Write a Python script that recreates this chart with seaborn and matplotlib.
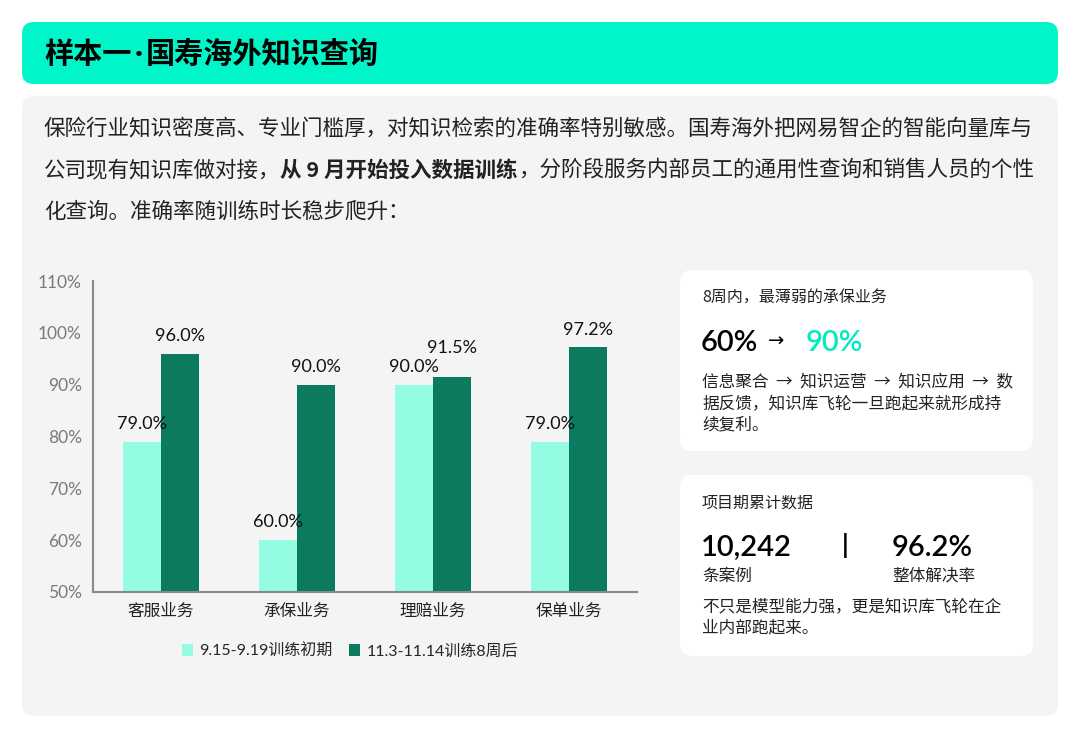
import matplotlib
matplotlib.use('Agg')
import matplotlib.pyplot as plt
import seaborn as sns
import pandas as pd
from matplotlib.patches import FancyBboxPatch

# chart data
categories = ['客服业务', '承保业务', '理赔业务', '保单业务']
periods = ['9.15-9.19训练初期', '11.3-11.14训练8周后']
early_acc = [79.0, 60.0, 90.0, 79.0]
after_acc = [96.0, 90.0, 91.5, 97.2]
y_ticks = [50, 60, 70, 80, 90, 100, 110]

# text content
title_parts = ['样本一', '·', '国寿海外知识查询']
para_line1 = '保险行业知识密度高、专业门槛厚，对知识检索的准确率特别敏感。国寿海外把网易智企的智能向量库与'
para_line2 = ['公司现有知识库做对接，', '从 9 月开始投入数据训练', '，分阶段服务内部员工的通用性查询和销售人员的个性']
para_line3 = '化查询。准确率随训练时长稳步爬升：'
card1_head = '8周内，最薄弱的承保业务'
card1_from, card1_to = '60%', '90%'
card1_body = ['信息聚合  →  知识运营  →  知识应用  →  数', '据反馈，知识库飞轮一旦跑起来就形成持', '续复利。']
card2_head = '项目期累计数据'
card2_cases, card2_rate = '10,242', '96.2%'
card2_body = ['不只是模型能力强，更是知识库飞轮在企', '业内部跑起来。']

LIGHT = '#94FCE2'
DARK = '#0B7A5E'
AQUA = '#00F5C8'
CJK = ['Noto Sans CJK SC', 'DejaVu Sans']
NUM = ['Lato', 'Noto Sans CJK SC', 'DejaVu Sans']

sns.set_style('white')
plt.rcParams['font.family'] = CJK

W, H = 1080, 738
fig = plt.figure(figsize=(W / 100, H / 100), dpi=100)
fig.patch.set_facecolor('white')

# background axes in pixel coordinates
bg = fig.add_axes([0, 0, 1, 1])
bg.set_xlim(0, W)
bg.set_ylim(H, 0)
bg.axis('off')
bg.set_zorder(0)


def rbox(x0, y0, x1, y1, color, r=12):
    bg.add_patch(FancyBboxPatch((x0, y0), x1 - x0, y1 - y0,
                                boxstyle=f'round,pad=0,rounding_size={r}',
                                facecolor=color, edgecolor='none'))


rbox(22, 22, 1058, 84, AQUA, r=12)
rbox(22, 96, 1058, 716, '#F5F4F5', r=12)
rbox(680, 270, 1033, 451, 'white', r=12)
rbox(680, 475, 1033, 656, 'white', r=12)

fig.canvas.draw()
renderer = fig.canvas.get_renderer()


def run_text(x, y, parts, fams, weights, gap=0, **kw):
    for part, fam, wt in zip(parts, fams, weights):
        t = bg.text(x, y, part, family=fam, fontweight=wt, **kw)
        x += t.get_window_extent(renderer).width + gap


run_text(44, 54, title_parts, [CJK, NUM, CJK], ['bold'] * 3, gap=3,
         fontsize=21, color='black', va='center')

txt_kw = dict(fontsize=15.5, color='#222222', va='center')
bg.text(44, 128, para_line1, **txt_kw)
run_text(44, 170, para_line2, [CJK] * 3, ['normal', 'bold', 'normal'], **txt_kw)
bg.text(44, 212, para_line3, **txt_kw)

# card 1
bg.text(702, 298, card1_head, fontsize=11.5, color='#222222', va='center')
bg.text(701, 343, card1_from, fontsize=21, color='black', va='center', family=NUM, fontweight='semibold')
bg.text(768, 341, '→', fontsize=14, color='black', va='center', family=['DejaVu Sans'])
bg.text(806, 343, card1_to, fontsize=21, color='#00EBBE', va='center', family=NUM, fontweight='semibold')
for i, line in enumerate(card1_body):
    bg.text(702, 383 + i * 21, line, fontsize=12, color='#222222', va='center')

# card 2
bg.text(702, 503, card2_head, fontsize=11.5, color='#222222', va='center')
bg.text(701, 548, card2_cases, fontsize=21, color='black', va='center', family=NUM, fontweight='semibold')
bg.text(845, 546, '|', fontsize=19, fontweight='bold', color='black', va='center', ha='center', family=NUM)
bg.text(892, 548, card2_rate, fontsize=21, color='black', va='center', family=NUM, fontweight='semibold')
bg.text(702, 576, '条案例', fontsize=12, color='#222222', va='center')
bg.text(892, 576, '整体解决率', fontsize=12, color='#222222', va='center')
for i, line in enumerate(card2_body):
    bg.text(702, 607 + i * 21, line, fontsize=12, color='#222222', va='center')

# bar chart
df = pd.DataFrame({
    'category': categories * 2,
    'period': [periods[0]] * len(categories) + [periods[1]] * len(categories),
    'accuracy': early_acc + after_acc,
})

ax = fig.add_axes([93 / W, 1 - 592 / H, (637 - 93) / W, (592 - 281) / H])
ax.set_zorder(1)
ax.patch.set_alpha(0)
sns.barplot(data=df, x='category', y='accuracy', hue='period', order=categories,
            hue_order=periods, palette=[LIGHT, DARK], width=0.56, errorbar=None,
            saturation=1, linewidth=0, ax=ax)
ax.set_ylim(50, 110)
ax.set_xlim(-0.5, len(categories) - 0.5)
ax.set_yticks(y_ticks)
ax.set_yticklabels([f'{v}%' for v in y_ticks], family=NUM, fontsize=12.5, color='#7A7A7A')
ax.set_xlabel('')
ax.set_ylabel('')
ax.tick_params(axis='x', which='major', length=0, labelsize=12, labelcolor='#222222', pad=8)
ax.set_xticks([i - 0.5 for i in range(len(categories) + 1)], minor=True)
ax.tick_params(axis='x', which='minor', length=6, width=1.5, color='#8A8A8A', direction='out')
ax.tick_params(axis='y', length=5, width=1.5, color='#8A8A8A', direction='out', pad=3)
for side in ['top', 'right']:
    ax.spines[side].set_visible(False)
for side in ['left', 'bottom']:
    ax.spines[side].set_color('#8A8A8A')
    ax.spines[side].set_linewidth(1.5)

for k, cont in enumerate(ax.containers):
    texts = ax.bar_label(cont, fmt='%.1f%%', padding=7, fontsize=13, color='#111111',
                         family=NUM)
    if k == 1:
        # nudge the 理赔 label up so it clears its neighbour
        texts[2].set_y(texts[2].get_position()[1] + 8)

handles, labels = ax.get_legend_handles_labels()
ax.legend(handles, labels, loc='center', bbox_to_anchor=(350 / W, 1 - 651 / H),
          bbox_transform=fig.transFigure, ncol=2, frameon=False,
          handlelength=0.7, handleheight=0.7, handletextpad=0.4,
          columnspacing=1.0, prop={'family': NUM, 'size': 11.5})

fig.savefig('out.png', dpi=100)
